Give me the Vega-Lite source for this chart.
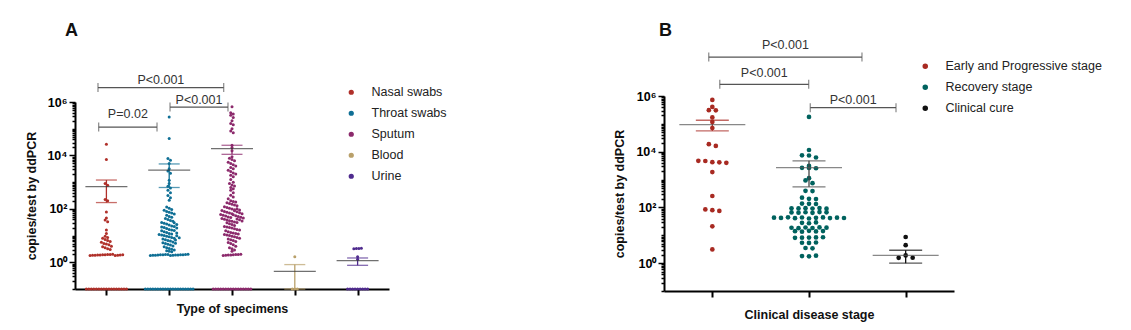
{
"$schema": "https://vega.github.io/schema/vega-lite/v6.json",
"padding": {"left": 25, "top": 21, "right": 5, "bottom": 5},
"config": {
  "font": "Liberation Sans",
  "view": {"stroke": null},
  "axis": {"domainColor": "#000", "domainWidth": 2, "tickColor": "#000", "tickWidth": 1.5, "labelFont": "Liberation Sans", "labelFontSize": 12.5, "labelFontWeight": "bold", "labelColor": "#000", "titleFont": "Liberation Sans", "titleFontSize": 12.5, "titleFontWeight": "bold", "titleColor": "#111", "grid": false},
  "legend": {"labelFont": "Liberation Sans", "labelFontSize": 12.5, "labelColor": "#222", "symbolType": "circle", "symbolSize": 14, "rowPadding": 8, "labelOffset": 14, "padding": 0}
},
"datasets": {
  "specimens": [
    {"g":"Nasal swabs","v":26300},{"g":"Nasal swabs","v":7080},{"g":"Nasal swabs","v":891},{"g":"Nasal swabs","v":759},{"g":"Nasal swabs","v":224},{"g":"Nasal swabs","v":200},{"g":"Nasal swabs","v":76},{"g":"Nasal swabs","v":45},{"g":"Nasal swabs","v":38},{"g":"Nasal swabs","v":33},{"g":"Nasal swabs","v":16},{"g":"Nasal swabs","v":12},{"g":"Nasal swabs","v":9.5},{"g":"Nasal swabs","v":8.5},{"g":"Nasal swabs","v":7.9},{"g":"Nasal swabs","v":7.1},{"g":"Nasal swabs","v":6.6},{"g":"Nasal swabs","v":6},{"g":"Nasal swabs","v":5.6},{"g":"Nasal swabs","v":5},{"g":"Nasal swabs","v":4.8},{"g":"Nasal swabs","v":4.5},{"g":"Nasal swabs","v":4},{"g":"Nasal swabs","v":3.8},{"g":"Nasal swabs","v":3.5},{"g":"Nasal swabs","v":3.2},{"g":"Nasal swabs","v":3},
    {"g":"Nasal swabs","v":1.8},{"g":"Nasal swabs","v":1.82},{"g":"Nasal swabs","v":1.84},{"g":"Nasal swabs","v":1.86},{"g":"Nasal swabs","v":1.88},{"g":"Nasal swabs","v":1.9},{"g":"Nasal swabs","v":1.92},{"g":"Nasal swabs","v":1.94},{"g":"Nasal swabs","v":1.96},{"g":"Nasal swabs","v":1.98},{"g":"Nasal swabs","v":1.81},{"g":"Nasal swabs","v":1.85},{"g":"Nasal swabs","v":1.89},{"g":"Nasal swabs","v":1.93},
    {"g":"Nasal swabs","v":0},{"g":"Nasal swabs","v":0},{"g":"Nasal swabs","v":0},{"g":"Nasal swabs","v":0},{"g":"Nasal swabs","v":0},{"g":"Nasal swabs","v":0},{"g":"Nasal swabs","v":0},{"g":"Nasal swabs","v":0},{"g":"Nasal swabs","v":0},{"g":"Nasal swabs","v":0},{"g":"Nasal swabs","v":0},{"g":"Nasal swabs","v":0},{"g":"Nasal swabs","v":0},{"g":"Nasal swabs","v":0},{"g":"Nasal swabs","v":0},{"g":"Nasal swabs","v":0},{"g":"Nasal swabs","v":0},
    {"g":"Throat swabs","v":275000},{"g":"Throat swabs","v":42700},{"g":"Throat swabs","v":7600},{"g":"Throat swabs","v":6600},{"g":"Throat swabs","v":5000},{"g":"Throat swabs","v":3160},{"g":"Throat swabs","v":2630},{"g":"Throat swabs","v":2140},{"g":"Throat swabs","v":1175},{"g":"Throat swabs","v":890},{"g":"Throat swabs","v":700},{"g":"Throat swabs","v":600},{"g":"Throat swabs","v":500},{"g":"Throat swabs","v":400},{"g":"Throat swabs","v":316},{"g":"Throat swabs","v":263},{"g":"Throat swabs","v":209},
    {"g":"Throat swabs","v":118},{"g":"Throat swabs","v":105},{"g":"Throat swabs","v":95},{"g":"Throat swabs","v":88},{"g":"Throat swabs","v":80},{"g":"Throat swabs","v":75},{"g":"Throat swabs","v":70},{"g":"Throat swabs","v":64},{"g":"Throat swabs","v":58},{"g":"Throat swabs","v":52},{"g":"Throat swabs","v":48},{"g":"Throat swabs","v":44},{"g":"Throat swabs","v":40},{"g":"Throat swabs","v":37},{"g":"Throat swabs","v":34},{"g":"Throat swabs","v":31},{"g":"Throat swabs","v":29},{"g":"Throat swabs","v":27},{"g":"Throat swabs","v":25},{"g":"Throat swabs","v":23},{"g":"Throat swabs","v":21},{"g":"Throat swabs","v":20},{"g":"Throat swabs","v":18.5},{"g":"Throat swabs","v":17},{"g":"Throat swabs","v":16},{"g":"Throat swabs","v":15},{"g":"Throat swabs","v":14},{"g":"Throat swabs","v":13},{"g":"Throat swabs","v":12},{"g":"Throat swabs","v":11.5},{"g":"Throat swabs","v":11},{"g":"Throat swabs","v":10.5},{"g":"Throat swabs","v":10},{"g":"Throat swabs","v":9.5},{"g":"Throat swabs","v":9},{"g":"Throat swabs","v":8.5},{"g":"Throat swabs","v":8},{"g":"Throat swabs","v":7.5},{"g":"Throat swabs","v":7},{"g":"Throat swabs","v":6.6},{"g":"Throat swabs","v":6.2},{"g":"Throat swabs","v":5.8},{"g":"Throat swabs","v":5.4},{"g":"Throat swabs","v":5},{"g":"Throat swabs","v":4.7},{"g":"Throat swabs","v":4.4},{"g":"Throat swabs","v":4.1},{"g":"Throat swabs","v":3.8},{"g":"Throat swabs","v":3.5},{"g":"Throat swabs","v":3.3},{"g":"Throat swabs","v":3.1},{"g":"Throat swabs","v":2.9},{"g":"Throat swabs","v":2.7},{"g":"Throat swabs","v":2.6},{"g":"Throat swabs","v":2.5},{"g":"Throat swabs","v":30},{"g":"Throat swabs","v":26},{"g":"Throat swabs","v":22},{"g":"Throat swabs","v":19},{"g":"Throat swabs","v":15.5},{"g":"Throat swabs","v":12.5},{"g":"Throat swabs","v":9.8},{"g":"Throat swabs","v":8.2},{"g":"Throat swabs","v":6.8},{"g":"Throat swabs","v":5.2},
    {"g":"Throat swabs","v":1.8},{"g":"Throat swabs","v":1.82},{"g":"Throat swabs","v":1.85},{"g":"Throat swabs","v":1.87},{"g":"Throat swabs","v":1.9},{"g":"Throat swabs","v":1.92},{"g":"Throat swabs","v":1.95},{"g":"Throat swabs","v":1.97},{"g":"Throat swabs","v":1.81},{"g":"Throat swabs","v":1.84},{"g":"Throat swabs","v":1.86},{"g":"Throat swabs","v":1.88},{"g":"Throat swabs","v":1.91},{"g":"Throat swabs","v":1.93},{"g":"Throat swabs","v":1.96},{"g":"Throat swabs","v":1.98},
    {"g":"Throat swabs","v":0},{"g":"Throat swabs","v":0},{"g":"Throat swabs","v":0},{"g":"Throat swabs","v":0},{"g":"Throat swabs","v":0},{"g":"Throat swabs","v":0},{"g":"Throat swabs","v":0},{"g":"Throat swabs","v":0},{"g":"Throat swabs","v":0},{"g":"Throat swabs","v":0},{"g":"Throat swabs","v":0},{"g":"Throat swabs","v":0},{"g":"Throat swabs","v":0},{"g":"Throat swabs","v":0},{"g":"Throat swabs","v":0},{"g":"Throat swabs","v":0},{"g":"Throat swabs","v":0},{"g":"Throat swabs","v":0},{"g":"Throat swabs","v":0},{"g":"Throat swabs","v":0},
    {"g":"Sputum","v":660000},{"g":"Sputum","v":400000},{"g":"Sputum","v":355000},{"g":"Sputum","v":316000},{"g":"Sputum","v":263000},{"g":"Sputum","v":200000},{"g":"Sputum","v":158000},{"g":"Sputum","v":141000},{"g":"Sputum","v":100000},{"g":"Sputum","v":83000},{"g":"Sputum","v":71000},{"g":"Sputum","v":24000},{"g":"Sputum","v":20000},{"g":"Sputum","v":15000},
    {"g":"Sputum","v":8900},{"g":"Sputum","v":7900},{"g":"Sputum","v":7100},{"g":"Sputum","v":6300},{"g":"Sputum","v":5600},{"g":"Sputum","v":5000},{"g":"Sputum","v":4500},{"g":"Sputum","v":4000},{"g":"Sputum","v":3500},{"g":"Sputum","v":3200},{"g":"Sputum","v":2800},{"g":"Sputum","v":2500},{"g":"Sputum","v":2200},{"g":"Sputum","v":2000},{"g":"Sputum","v":1800},{"g":"Sputum","v":1600},
    {"g":"Sputum","v":1260},{"g":"Sputum","v":1000},{"g":"Sputum","v":890},{"g":"Sputum","v":790},{"g":"Sputum","v":710},{"g":"Sputum","v":630},{"g":"Sputum","v":560},{"g":"Sputum","v":500},{"g":"Sputum","v":400},{"g":"Sputum","v":320},{"g":"Sputum","v":280},{"g":"Sputum","v":240},
    {"g":"Sputum","v":200},{"g":"Sputum","v":190},{"g":"Sputum","v":180},{"g":"Sputum","v":170},{"g":"Sputum","v":160},{"g":"Sputum","v":150},{"g":"Sputum","v":140},{"g":"Sputum","v":130},{"g":"Sputum","v":120},{"g":"Sputum","v":112},{"g":"Sputum","v":105},{"g":"Sputum","v":98},{"g":"Sputum","v":92},{"g":"Sputum","v":86},{"g":"Sputum","v":80},{"g":"Sputum","v":75},{"g":"Sputum","v":70},{"g":"Sputum","v":66},{"g":"Sputum","v":62},{"g":"Sputum","v":58},{"g":"Sputum","v":54},{"g":"Sputum","v":50},{"g":"Sputum","v":47},{"g":"Sputum","v":44},{"g":"Sputum","v":41},{"g":"Sputum","v":38},{"g":"Sputum","v":36},{"g":"Sputum","v":34},{"g":"Sputum","v":32},{"g":"Sputum","v":30},{"g":"Sputum","v":28},{"g":"Sputum","v":26},{"g":"Sputum","v":24},{"g":"Sputum","v":22},{"g":"Sputum","v":21},{"g":"Sputum","v":20},{"g":"Sputum","v":19},{"g":"Sputum","v":18},{"g":"Sputum","v":17},{"g":"Sputum","v":16},{"g":"Sputum","v":15},{"g":"Sputum","v":14},{"g":"Sputum","v":13},{"g":"Sputum","v":12.5},{"g":"Sputum","v":12},
    {"g":"Sputum","v":100},{"g":"Sputum","v":90},{"g":"Sputum","v":85},{"g":"Sputum","v":78},{"g":"Sputum","v":72},{"g":"Sputum","v":65},{"g":"Sputum","v":60},{"g":"Sputum","v":55},{"g":"Sputum","v":52},{"g":"Sputum","v":48},{"g":"Sputum","v":45},{"g":"Sputum","v":42},{"g":"Sputum","v":39},{"g":"Sputum","v":35},{"g":"Sputum","v":31},
    {"g":"Sputum","v":11.5},{"g":"Sputum","v":11},{"g":"Sputum","v":10.5},{"g":"Sputum","v":10},{"g":"Sputum","v":9.5},{"g":"Sputum","v":9},{"g":"Sputum","v":8.5},{"g":"Sputum","v":8},{"g":"Sputum","v":7.5},{"g":"Sputum","v":7},{"g":"Sputum","v":6.5},{"g":"Sputum","v":6},{"g":"Sputum","v":5.5},{"g":"Sputum","v":5},{"g":"Sputum","v":4.5},{"g":"Sputum","v":4},{"g":"Sputum","v":3.5},{"g":"Sputum","v":3.2},{"g":"Sputum","v":2.9},{"g":"Sputum","v":2.6},
    {"g":"Sputum","v":1.8},{"g":"Sputum","v":1.83},{"g":"Sputum","v":1.86},{"g":"Sputum","v":1.89},{"g":"Sputum","v":1.92},{"g":"Sputum","v":1.95},{"g":"Sputum","v":1.97},{"g":"Sputum","v":1.99},
    {"g":"Sputum","v":0},{"g":"Sputum","v":0},{"g":"Sputum","v":0},{"g":"Sputum","v":0},{"g":"Sputum","v":0},{"g":"Sputum","v":0},{"g":"Sputum","v":0},{"g":"Sputum","v":0},{"g":"Sputum","v":0},{"g":"Sputum","v":0},{"g":"Sputum","v":0},{"g":"Sputum","v":0},{"g":"Sputum","v":0},{"g":"Sputum","v":0},{"g":"Sputum","v":0},{"g":"Sputum","v":0},
    {"g":"Blood","v":1.6},{"g":"Blood","v":0},{"g":"Blood","v":0},{"g":"Blood","v":0},
    {"g":"Urine","v":3.2},{"g":"Urine","v":3.25},{"g":"Urine","v":3.3},{"g":"Urine","v":3.35},{"g":"Urine","v":1.6},{"g":"Urine","v":1.3},
    {"g":"Urine","v":0},{"g":"Urine","v":0},{"g":"Urine","v":0},{"g":"Urine","v":0},{"g":"Urine","v":0},{"g":"Urine","v":0},{"g":"Urine","v":0},{"g":"Urine","v":0},{"g":"Urine","v":0}
  ],
  "specStats": [
    {"g":"Nasal swabs","mean":680,"lo":172,"hi":1200},
    {"g":"Throat swabs","mean":2800,"lo":630,"hi":4800},
    {"g":"Sputum","mean":18000,"lo":11000,"hi":24000},
    {"g":"Blood","mean":0.46,"lo":0.1,"hi":0.82},
    {"g":"Urine","mean":1.16,"lo":0.77,"hi":1.45}
  ],
  "bracketsA": [
    {"x1":-0.134,"x2":1.868,"y":3470000,"ty":6600000,"label":"P<0.001"},
    {"x1":-0.123,"x2":0.806,"y":115000,"ty":355000,"label":"P=0.02"},
    {"x1":1.013,"x2":1.936,"y":646000,"ty":1230000,"label":"P<0.001"}
  ],
  "stages": [
    {"g":"Early and Progressive stage","v":724000},{"g":"Early and Progressive stage","v":407000},{"g":"Early and Progressive stage","v":309000},{"g":"Early and Progressive stage","v":305000},{"g":"Early and Progressive stage","v":170000},{"g":"Early and Progressive stage","v":117000},{"g":"Early and Progressive stage","v":71000},{"g":"Early and Progressive stage","v":18600},{"g":"Early and Progressive stage","v":16200},{"g":"Early and Progressive stage","v":4700},{"g":"Early and Progressive stage","v":4650},{"g":"Early and Progressive stage","v":4200},{"g":"Early and Progressive stage","v":4150},{"g":"Early and Progressive stage","v":4000},{"g":"Early and Progressive stage","v":1860},{"g":"Early and Progressive stage","v":257},{"g":"Early and Progressive stage","v":85},{"g":"Early and Progressive stage","v":80},{"g":"Early and Progressive stage","v":75},{"g":"Early and Progressive stage","v":21},{"g":"Early and Progressive stage","v":3.1},
    {"g":"Recovery stage","v":177800},{"g":"Recovery stage","v":11500},{"g":"Recovery stage","v":7400},{"g":"Recovery stage","v":7300},{"g":"Recovery stage","v":6200},{"g":"Recovery stage","v":3100},{"g":"Recovery stage","v":2650},{"g":"Recovery stage","v":2600},{"g":"Recovery stage","v":2550},{"g":"Recovery stage","v":1120},{"g":"Recovery stage","v":930},{"g":"Recovery stage","v":740},{"g":"Recovery stage","v":395},{"g":"Recovery stage","v":385},{"g":"Recovery stage","v":224},{"g":"Recovery stage","v":204},{"g":"Recovery stage","v":200},{"g":"Recovery stage","v":137},{"g":"Recovery stage","v":135},{"g":"Recovery stage","v":133},
    {"g":"Recovery stage","v":93},{"g":"Recovery stage","v":92},{"g":"Recovery stage","v":94},{"g":"Recovery stage","v":91},{"g":"Recovery stage","v":95},{"g":"Recovery stage","v":90},
    {"g":"Recovery stage","v":66},{"g":"Recovery stage","v":65},{"g":"Recovery stage","v":67},{"g":"Recovery stage","v":64},{"g":"Recovery stage","v":68},{"g":"Recovery stage","v":66.5},
    {"g":"Recovery stage","v":43},{"g":"Recovery stage","v":42},{"g":"Recovery stage","v":44},{"g":"Recovery stage","v":41},{"g":"Recovery stage","v":43.5},{"g":"Recovery stage","v":40},{"g":"Recovery stage","v":42.5},{"g":"Recovery stage","v":43.8},{"g":"Recovery stage","v":41.5},{"g":"Recovery stage","v":42.8},{"g":"Recovery stage","v":41.8},
    {"g":"Recovery stage","v":28},{"g":"Recovery stage","v":27},{"g":"Recovery stage","v":29},
    {"g":"Recovery stage","v":18.6},{"g":"Recovery stage","v":18},{"g":"Recovery stage","v":19},{"g":"Recovery stage","v":18.3},{"g":"Recovery stage","v":19.2},{"g":"Recovery stage","v":18.8},
    {"g":"Recovery stage","v":14},{"g":"Recovery stage","v":13.5},{"g":"Recovery stage","v":14.5},{"g":"Recovery stage","v":13.8},{"g":"Recovery stage","v":14.2},
    {"g":"Recovery stage","v":8.1},{"g":"Recovery stage","v":8.2},{"g":"Recovery stage","v":8.3},{"g":"Recovery stage","v":8.4},{"g":"Recovery stage","v":8.5},
    {"g":"Recovery stage","v":5.4},{"g":"Recovery stage","v":5.3},{"g":"Recovery stage","v":5.5},
    {"g":"Recovery stage","v":3.5},{"g":"Recovery stage","v":3.4},
    {"g":"Recovery stage","v":1.8},{"g":"Recovery stage","v":1.75},{"g":"Recovery stage","v":1.85},
    {"g":"Clinical cure","v":8.7},{"g":"Clinical cure","v":4.4},{"g":"Clinical cure","v":1.55},{"g":"Clinical cure","v":1.9},{"g":"Clinical cure","v":1.56}
  ],
  "stageStats": [
    {"g":"Early and Progressive stage","mean":94000,"lo":56000,"hi":135000},
    {"g":"Recovery stage","mean":2700,"lo":550,"hi":4700},
    {"g":"Clinical cure","mean":1.9,"lo":1.0,"hi":2.9}
  ],
  "bracketsB": [
    {"x1":-0.037,"x2":1.548,"y":25000000,"ty":68000000,"label":"P<0.001"},
    {"x1":0.077,"x2":0.997,"y":2630000,"ty":6900000,"label":"P<0.001"},
    {"x1":1.013,"x2":1.9,"y":380000,"ty":724000,"label":"P<0.001"}
  ]
},
"spacing": 166,
"resolve": {"scale": {"color": "independent", "x": "independent", "y": "independent"}, "legend": {"color": "independent"}},
"hconcat": [
 {
  "width": 314, "height": 193,
  "title": {"text": "A", "anchor": "start", "frame": "group", "fontSize": 18, "fontWeight": "bold", "font": "Liberation Sans", "color": "#111", "dx": -10, "offset": 34},
  "layer": [
   {
    "data": {"name": "specimens"},
    "transform": [
      {"calculate": "max(datum.v, 0.1)", "as": "pv"},
      {"calculate": "floor(log(datum.pv) / LN10 / 0.15 + 0.0001)", "as": "row"},
      {"joinaggregate": [{"op": "count", "as": "n"}], "groupby": ["g", "row"]},
      {"window": [{"op": "row_number", "as": "r"}], "groupby": ["g", "row"]},
      {"calculate": "indexof(['Nasal swabs','Throat swabs','Sputum','Blood','Urine'], datum.g) + (datum.r - (datum.n + 1) / 2) * 0.04", "as": "xp"}
    ],
    "mark": {"type": "circle", "size": 9, "opacity": 1},
    "encoding": {
      "x": {"field": "xp", "type": "quantitative", "scale": {"domain": [-0.5, 4.5], "nice": false, "zero": false},
            "axis": {"values": [0, 1, 2, 3, 4], "labels": false, "tickSize": 6, "tickWidth": 2, "title": "Type of specimens", "titlePadding": 6}},
      "y": {"field": "pv", "type": "quantitative", "scale": {"type": "log", "domain": [0.1, 1000000], "nice": false, "range": [193, 6]},
            "axis": {"values": [0.1,0.2,0.3,0.4,0.5,0.6,0.7,0.8,0.9,1,2,3,4,5,6,7,8,9,10,20,30,40,50,60,70,80,90,100,200,300,400,500,600,700,800,900,1000,2000,3000,4000,5000,6000,7000,8000,9000,10000,20000,30000,40000,50000,60000,70000,80000,90000,100000,200000,300000,400000,500000,600000,700000,800000,900000,1000000],
                     "labelExpr": "datum.value == 1 ? '10⁰' : datum.value == 100 ? '10²' : datum.value == 10000 ? '10⁴' : datum.value == 1000000 ? '10⁶' : ''",
                     "tickSize": {"condition": {"test": "datum.value == 1 || datum.value == 100 || datum.value == 10000 || datum.value == 1000000", "value": 6}, "value": 3},
                     "labelOverlap": false, "labelBound": false, "labelPadding": 2, "title": "copies/test by ddPCR", "titlePadding": 8}},
      "color": {"field": "g", "type": "nominal",
                "scale": {"domain": ["Nasal swabs", "Throat swabs", "Sputum", "Blood", "Urine"], "range": ["#b0302a", "#0f6f95", "#8c2a6c", "#b9a06a", "#4f2b8e"]},
                "legend": {"title": null, "orient": "none", "legendX": 270, "legendY": -10, "symbolType": "circle"}}
    }
   },
   {
    "data": {"name": "specStats"},
    "transform": [{"calculate": "indexof(['Nasal swabs','Throat swabs','Sputum','Blood','Urine'], datum.g)", "as": "xi"}],
    "mark": {"type": "rule", "strokeWidth": 1.3},
    "encoding": {
      "x": {"field": "xi", "type": "quantitative"},
      "y": {"field": "lo", "type": "quantitative"},
      "y2": {"field": "hi"},
      "color": {"field": "g", "type": "nominal", "legend": null}
    }
   },
   {
    "data": {"name": "specStats"},
    "transform": [{"calculate": "indexof(['Nasal swabs','Throat swabs','Sputum','Blood','Urine'], datum.g)", "as": "xi"}, {"fold": ["lo", "hi"], "as": ["k", "yv"]}],
    "mark": {"type": "tick", "orient": "horizontal", "size": 21, "thickness": 1.3},
    "encoding": {
      "x": {"field": "xi", "type": "quantitative"},
      "y": {"field": "yv", "type": "quantitative"},
      "color": {"field": "g", "type": "nominal", "legend": null}
    }
   },
   {
    "data": {"name": "specStats"},
    "transform": [{"calculate": "indexof(['Nasal swabs','Throat swabs','Sputum','Blood','Urine'], datum.g)", "as": "xi"}],
    "mark": {"type": "tick", "orient": "horizontal", "size": 42, "thickness": 1.3, "color": "#333"},
    "encoding": {
      "x": {"field": "xi", "type": "quantitative"},
      "y": {"field": "mean", "type": "quantitative"}
    }
   },
   {
    "data": {"name": "bracketsA"},
    "mark": {"type": "rule", "color": "#555", "strokeWidth": 1.2, "clip": false},
    "encoding": {
      "x": {"field": "x1", "type": "quantitative"},
      "x2": {"field": "x2"},
      "y": {"field": "y", "type": "quantitative"}
    }
   },
   {
    "data": {"name": "bracketsA"},
    "transform": [{"fold": ["x1", "x2"], "as": ["k", "xe"]}],
    "mark": {"type": "tick", "orient": "vertical", "size": 9, "thickness": 1.2, "color": "#555", "clip": false},
    "encoding": {
      "x": {"field": "xe", "type": "quantitative"},
      "y": {"field": "y", "type": "quantitative"}
    }
   },
   {
    "data": {"name": "bracketsA"},
    "transform": [{"calculate": "(datum.x1 + datum.x2) / 2", "as": "xm"}],
    "mark": {"type": "text", "fontSize": 12.5, "font": "Liberation Sans", "color": "#333", "baseline": "middle", "align": "center", "clip": false},
    "encoding": {
      "x": {"field": "xm", "type": "quantitative"},
      "y": {"field": "ty", "type": "quantitative"},
      "text": {"field": "label"}
    }
   }
  ]
 },
 {
  "width": 290, "height": 195,
  "title": {"text": "B", "anchor": "start", "frame": "group", "fontSize": 18, "fontWeight": "bold", "font": "Liberation Sans", "color": "#111", "dx": -5, "offset": -1},
  "layer": [
   {
    "data": {"name": "stages"},
    "transform": [
      {"calculate": "max(datum.v, 0.1)", "as": "pv"},
      {"calculate": "floor(log(datum.pv) / LN10 / 0.15 + 0.0001)", "as": "row"},
      {"joinaggregate": [{"op": "count", "as": "n"}], "groupby": ["g", "row"]},
      {"window": [{"op": "row_number", "as": "r"}], "groupby": ["g", "row"]},
      {"calculate": "indexof(['Early and Progressive stage','Recovery stage','Clinical cure'], datum.g) + (datum.r - (datum.n + 1) / 2) * 0.0724", "as": "xp"}
    ],
    "mark": {"type": "circle", "size": 22, "opacity": 1},
    "encoding": {
      "x": {"field": "xp", "type": "quantitative", "scale": {"domain": [-0.5, 2.5], "nice": false, "zero": false},
            "axis": {"values": [0, 1, 2], "labels": false, "tickSize": 6, "tickWidth": 2, "title": "Clinical disease stage", "titlePadding": 10}},
      "y": {"field": "pv", "type": "quantitative", "scale": {"type": "log", "domain": [0.1, 1000000], "nice": false},
            "axis": {"values": [0.1,0.2,0.3,0.4,0.5,0.6,0.7,0.8,0.9,1,2,3,4,5,6,7,8,9,10,20,30,40,50,60,70,80,90,100,200,300,400,500,600,700,800,900,1000,2000,3000,4000,5000,6000,7000,8000,9000,10000,20000,30000,40000,50000,60000,70000,80000,90000,100000,200000,300000,400000,500000,600000,700000,800000,900000,1000000],
                     "labelExpr": "datum.value == 1 ? '10⁰' : datum.value == 100 ? '10²' : datum.value == 10000 ? '10⁴' : datum.value == 1000000 ? '10⁶' : ''",
                     "tickSize": {"condition": {"test": "datum.value == 1 || datum.value == 100 || datum.value == 10000 || datum.value == 1000000", "value": 6}, "value": 3},
                     "labelOverlap": false, "labelBound": false, "labelPadding": 2, "title": "copies/test by ddPCR", "titlePadding": 9}},
      "color": {"field": "g", "type": "nominal",
                "scale": {"domain": ["Early and Progressive stage", "Recovery stage", "Clinical cure"], "range": ["#a82a22", "#00625e", "#111111"]},
                "legend": {"title": null, "orient": "none", "legendX": 255, "legendY": -36, "symbolType": "circle", "symbolSize": 16}}
    }
   },
   {
    "data": {"name": "stageStats"},
    "transform": [{"calculate": "indexof(['Early and Progressive stage','Recovery stage','Clinical cure'], datum.g)", "as": "xi"}],
    "mark": {"type": "rule", "strokeWidth": 1.3},
    "encoding": {
      "x": {"field": "xi", "type": "quantitative"},
      "y": {"field": "lo", "type": "quantitative"},
      "y2": {"field": "hi"},
      "color": {"condition": {"test": "datum.g === 'Recovery stage'", "value": "#444"}, "field": "g", "type": "nominal", "legend": null}
    }
   },
   {
    "data": {"name": "stageStats"},
    "transform": [{"calculate": "indexof(['Early and Progressive stage','Recovery stage','Clinical cure'], datum.g)", "as": "xi"}, {"fold": ["lo", "hi"], "as": ["k", "yv"]}],
    "mark": {"type": "tick", "orient": "horizontal", "size": 33, "thickness": 1.3},
    "encoding": {
      "x": {"field": "xi", "type": "quantitative"},
      "y": {"field": "yv", "type": "quantitative"},
      "color": {"condition": {"test": "datum.g === 'Recovery stage'", "value": "#444"}, "field": "g", "type": "nominal", "legend": null}
    }
   },
   {
    "data": {"name": "stageStats"},
    "transform": [{"calculate": "indexof(['Early and Progressive stage','Recovery stage','Clinical cure'], datum.g)", "as": "xi"}],
    "mark": {"type": "tick", "orient": "horizontal", "size": 66, "thickness": 1.3, "color": "#555"},
    "encoding": {
      "x": {"field": "xi", "type": "quantitative"},
      "y": {"field": "mean", "type": "quantitative"}
    }
   },
   {
    "data": {"name": "bracketsB"},
    "mark": {"type": "rule", "color": "#555", "strokeWidth": 1.2, "clip": false},
    "encoding": {
      "x": {"field": "x1", "type": "quantitative"},
      "x2": {"field": "x2"},
      "y": {"field": "y", "type": "quantitative"}
    }
   },
   {
    "data": {"name": "bracketsB"},
    "transform": [{"fold": ["x1", "x2"], "as": ["k", "xe"]}],
    "mark": {"type": "tick", "orient": "vertical", "size": 9, "thickness": 1.2, "color": "#555", "clip": false},
    "encoding": {
      "x": {"field": "xe", "type": "quantitative"},
      "y": {"field": "y", "type": "quantitative"}
    }
   },
   {
    "data": {"name": "bracketsB"},
    "transform": [{"calculate": "(datum.x1 + datum.x2) / 2", "as": "xm"}],
    "mark": {"type": "text", "fontSize": 12.5, "font": "Liberation Sans", "color": "#333", "baseline": "middle", "align": "center", "clip": false},
    "encoding": {
      "x": {"field": "xm", "type": "quantitative"},
      "y": {"field": "ty", "type": "quantitative"},
      "text": {"field": "label"}
    }
   }
  ]
 }
]
}
